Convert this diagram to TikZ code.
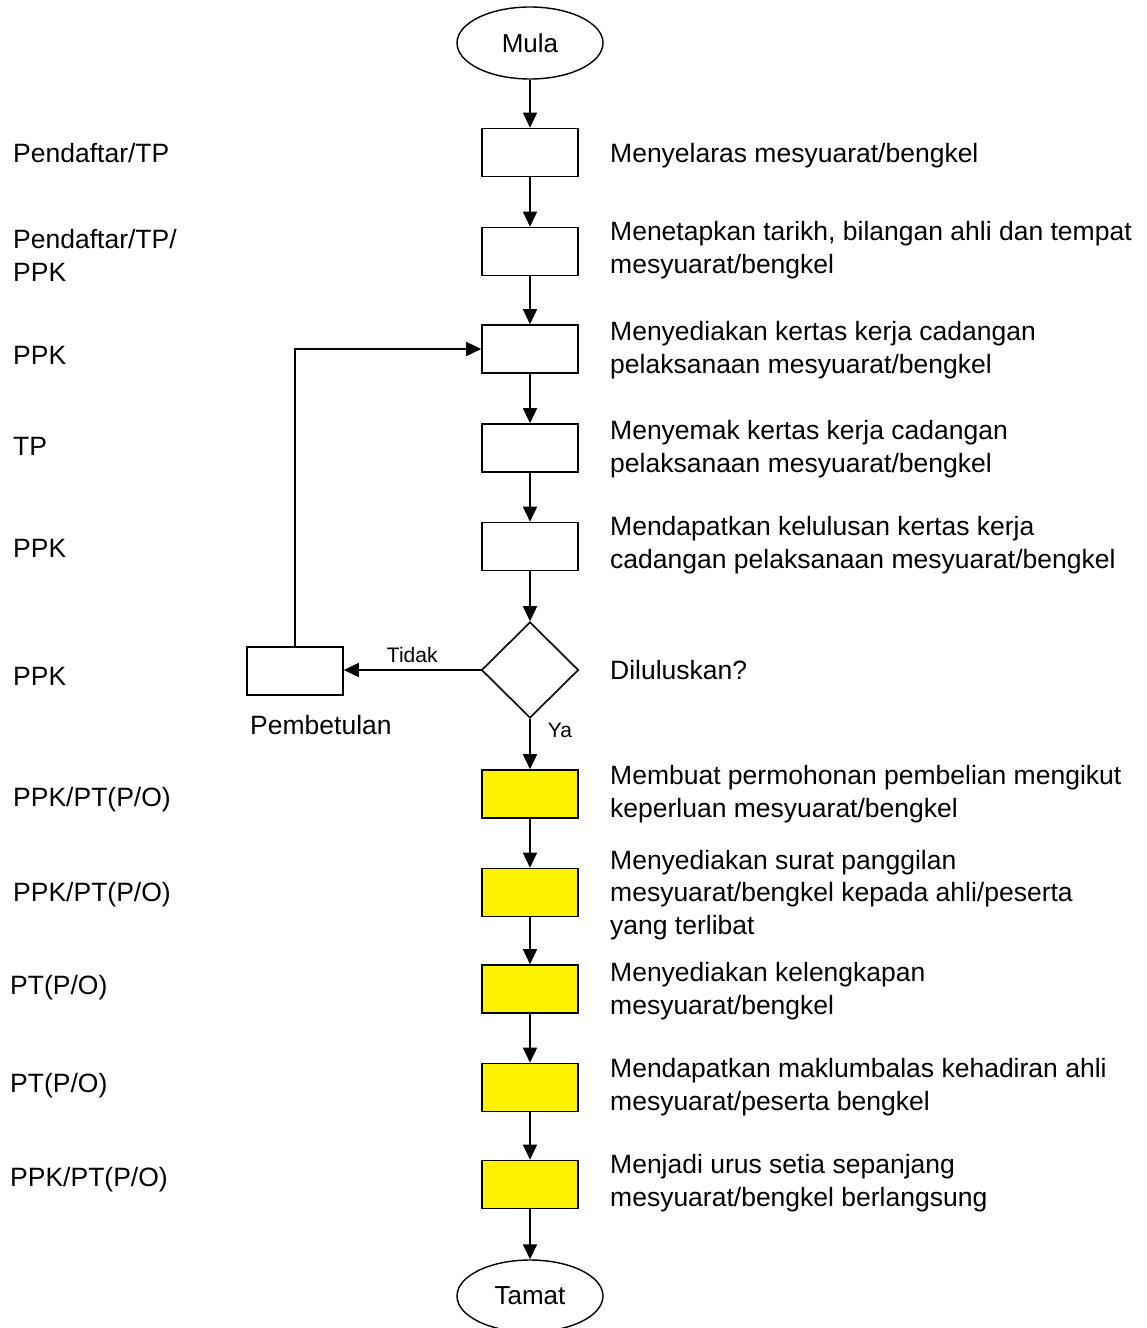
\documentclass[tikz,border=0pt]{standalone}
\usepackage{fontspec}
\setmainfont{Liberation Sans}
\usetikzlibrary{arrows.meta,shapes.geometric}

\begin{document}
\begin{tikzpicture}[x=1pt,y=-1pt,
    box/.style={draw,line width=1.6pt,minimum width=96pt,minimum height=48pt,inner sep=0pt},
    ybox/.style={box,fill=yellow},
    term/.style={draw,ellipse,line width=1.4pt,minimum width=146pt,minimum height=72pt,
      inner sep=0pt,font=\fontsize{26}{30}\selectfont},
    lbl/.style={anchor=base west,inner sep=0pt,align=left,font=\fontsize{26.5}{32.5}\selectfont},
    small/.style={inner sep=0pt,font=\fontsize{21}{25}\selectfont},
    flow/.style={line width=1.6pt,-{Triangle[length=15pt,width=14pt]}}]
  \useasboundingbox (0,0) rectangle (1146,1328);
  % main column
  \node[term] (mula) at (530,43) {Mula};
  \foreach \i/\y in {1/152.5,2/251.5,3/349,4/448,5/546.5}
    \node[box] (b\i) at (530,\y) {};
  \node[draw,diamond,line width=1.6pt,minimum width=97pt,minimum height=96pt,inner sep=0pt]
    (dec) at (530,670) {};
  \node[box] (pb) at (295,671) {};
  \foreach \i/\y in {1/794,2/892.5,3/989,4/1087.5,5/1184.5}
    \node[ybox] (y\i) at (530,\y) {};
  \node[term] (tamat) at (530,1296) {Tamat};
  % connectors
  \draw[flow] (mula) -- (b1);
  \foreach \a/\b in {b1/b2,b2/b3,b3/b4,b4/b5,b5/dec,y1/y2,y2/y3,y3/y4,y4/y5,y5/tamat}
    \draw[flow] (\a) -- (\b);
  \draw[flow] (dec.west) -- node[small,midway,above=7pt] (tidak) {Tidak} (dec.west -| pb.east);
  \draw[flow] (dec) -- node[small,pos=0.23,right=17pt] (ya) {Ya} (y1);
  \draw[flow] (pb.north) |- (b3.west);
  \node[lbl] (pbt) at (250,734) {Pembetulan};
  % who
  \node[lbl] (r1) at (13,162) {Pendaftar/TP};
  \node[lbl] (r2) at (13,281) {Pendaftar/TP/\\PPK};
  \node[lbl] (r3) at (13,364) {PPK};
  \node[lbl] (r4) at (13,455) {TP};
  \node[lbl] (r5) at (13,557) {PPK};
  \node[lbl] (r6) at (13,685) {PPK};
  \node[lbl] (r7) at (13,806) {PPK/PT(P/O)};
  \node[lbl] (r8) at (13,901) {PPK/PT(P/O)};
  \node[lbl] (r9) at (10,994) {PT(P/O)};
  \node[lbl] (r10) at (10,1092) {PT(P/O)};
  \node[lbl] (r11) at (10,1186) {PPK/PT(P/O)};
  % what
  \node[lbl] (t1) at (610,162) {Menyelaras mesyuarat/bengkel};
  \node[lbl] (t2) at (610,273) {Menetapkan tarikh, bilangan ahli dan tempat\\mesyuarat/bengkel};
  \node[lbl] (t3) at (610,373) {Menyediakan kertas kerja cadangan\\pelaksanaan mesyuarat/bengkel};
  \node[lbl] (t4) at (610,472) {Menyemak kertas kerja cadangan\\pelaksanaan mesyuarat/bengkel};
  \node[lbl] (t5) at (610,568) {Mendapatkan kelulusan kertas kerja\\cadangan pelaksanaan mesyuarat/bengkel};
  \node[lbl] (t6) at (610,679) {Diluluskan?};
  \node[lbl] (t7) at (610,817) {Membuat permohonan pembelian mengikut\\keperluan mesyuarat/bengkel};
  \node[lbl] (t8) at (610,934) {Menyediakan surat panggilan\\mesyuarat/bengkel kepada ahli/peserta\\yang terlibat};
  \node[lbl] (t9) at (610,1014) {Menyediakan kelengkapan\\mesyuarat/bengkel};
  \node[lbl] (t10) at (610,1110) {Mendapatkan maklumbalas kehadiran ahli\\mesyuarat/peserta bengkel};
  \node[lbl] (t11) at (610,1206) {Menjadi urus setia sepanjang\\mesyuarat/bengkel berlangsung};
\end{tikzpicture}
\end{document}
